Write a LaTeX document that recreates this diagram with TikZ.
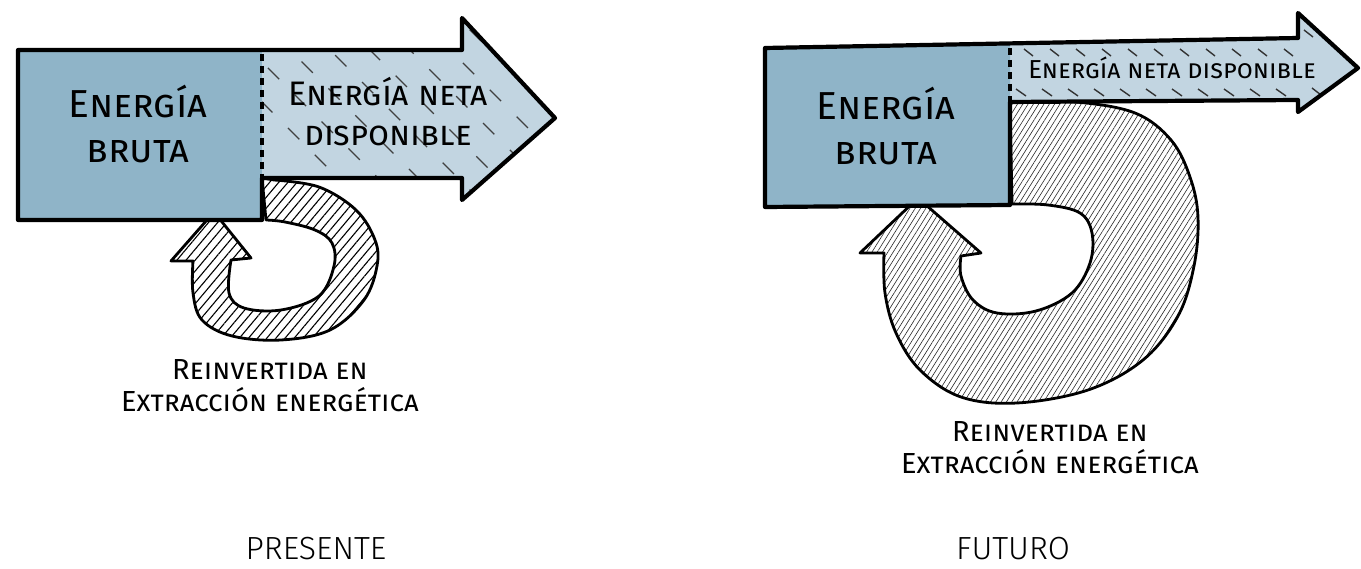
\documentclass[tikz,border=0pt]{standalone}
\usepackage{fontspec}
\usepackage{xcolor}
\usepackage{tikz}
\usetikzlibrary{patterns.meta}
\newfontfamily\handfont{Fira Sans}
\newfontfamily\titlefont{Fira Sans Light}
\definecolor{brutablue}{HTML}{8FB4C8}
\definecolor{netablue}{HTML}{C2D5E1}

\begin{document}
\begin{tikzpicture}[x=1pt, y=-1pt,
  outline/.style ={line width=4.2pt, line join=round, draw=black},
  edgedash/.style={line width=3.4pt, draw=black, dash pattern=on 7pt off 5pt},
  ringline/.style={line width=2.8pt, line join=round, draw=black},
  ringA/.style   ={ringline, preaction={fill=white}, pattern={Lines[angle=50,distance=7pt,line width=1.1pt]}, pattern color=black},
  ringB/.style   ={ringline, preaction={fill=white}, pattern={Lines[angle=58,distance=4.5pt,line width=0.6pt]}, pattern color=black!85},
  netadash/.style={line width=1.3pt, draw=black!75, dash pattern=on 16pt off 22pt},
  hatchmark/.style={line width=1.4pt, draw=black!80},
  hand/.style    ={align=center, inner sep=0pt},
  title/.style   ={font=\titlefont\fontsize{32}{32}\selectfont, inner sep=0pt},
]
\useasboundingbox (0,0) rectangle (1361,569);

% ---- PRESENTE ----
% reinvested loop (behind)
\draw[ringA] (262,178) -- plot[smooth, tension=0.6] coordinates {(274,180) (319,187) (356,210) (375,240) (377,266) (364,300) (330,330) (281,340) (232,336) (202,320) (193,293) (193,261)}
  -- (171,261) -- (214,212) -- (251,258)
  -- plot[smooth, tension=0.6] coordinates {(231,260) (229,293) (244,308) (281,310) (319,296) (334,266) (332,243) (315,230) (285,222) (266,220)} -- cycle;
% net arrow: light fill with broken diagonal strokes
\fill[netablue] (262,50) -- (462,50) -- (462,18) -- (555,118) -- (462,200) -- (462,178) -- (262,178) -- cycle;
\begin{scope}
  \clip (262,50) -- (462,50) -- (462,18) -- (555,118) -- (462,200) -- (462,178) -- (262,178) -- cycle;
  \foreach \x [count=\i] in {160,200,...,560} {
    \draw[netadash, dash phase=\i*9pt] (\x,0) -- ++(210,210);
  }
\end{scope}
\fill[brutablue] (18,50) rectangle (262,220);
\draw[outline] (262,178) -- (262,220) -- (18,220) -- (18,50) -- (462,50) -- (462,18) -- (555,118) -- (462,200) -- (462,178) -- (262,178);
\draw[edgedash] (262,54) -- (262,178);
% labels
\node[hand, font=\handfont\scshape\fontsize{39}{45}\selectfont] (brutaP) at (138,124) {Energía\\bruta};
\node[hand, font=\handfont\scshape\fontsize{34}{40}\selectfont] (netaP) at (388,112) {Energía neta\\disponible};
\node[hand, font=\handfont\scshape\fontsize{29}{32}\selectfont] (reinvP) at (270,386) {Reinvertida en\\Extracción energética};
\node[title] (presente) at (316,549) {PRESENTE};

% ---- FUTURO ----
\draw[ringB] (1010,102) -- plot[smooth, tension=0.6] coordinates {(1016,102) (1076,102) (1135,113) (1171,140) (1190,177) (1198,217) (1194,266) (1178,316) (1143,360) (1088,390) (1017,403) (961,397) (920,370) (896,333) (885,293) (884,253)}
  -- (860,253) -- (918,198) -- (981,253)
  -- plot[smooth, tension=0.6] coordinates {(961,256) (961,276) (973,300) (997,313) (1036,311) (1072,293) (1090,263) (1092,233) (1080,213) (1048,205) (1012,204)} -- cycle;
\fill[netablue] (1010,43.4) -- (1298,38) -- (1298,13) -- (1358,68) -- (1298,112) -- (1298,100) -- (1010,102) -- cycle;
% short hatch strokes along the edges of the thin arrow
\foreach \x in {1024,1050,...,1290} {
  \draw[hatchmark] (\x,49) -- ++(9,7);
  \draw[hatchmark] (\x-8,89) -- ++(10,7);
}
\draw[hatchmark] (1304,30) -- ++(9,7);
\draw[hatchmark] (1312,88) -- ++(9,7);
\fill[brutablue] (765,48) -- (1010,43.4) -- (1010,205) -- (765,207) -- cycle;
\draw[outline] (1010,102) -- (1010,205) -- (765,207) -- (765,48) -- (1298,38) -- (1298,13) -- (1358,68) -- (1298,112) -- (1298,100) -- (1010,102);
\draw[edgedash] (1010,48) -- (1010,102);
% labels
\node[hand, font=\handfont\scshape\fontsize{39}{45}\selectfont] (brutaF) at (886,126) {Energía\\bruta};
\node[hand, font=\handfont\scshape\fontsize{26}{26}\selectfont] (netaF) at (1172,68) {Energía neta disponible};
\node[hand, font=\handfont\scshape\fontsize{29}{32}\selectfont] (reinvF) at (1050,448) {Reinvertida en\\Extracción energética};
\node[title] (futuro) at (1013,549) {FUTURO};
\end{tikzpicture}
\end{document}
